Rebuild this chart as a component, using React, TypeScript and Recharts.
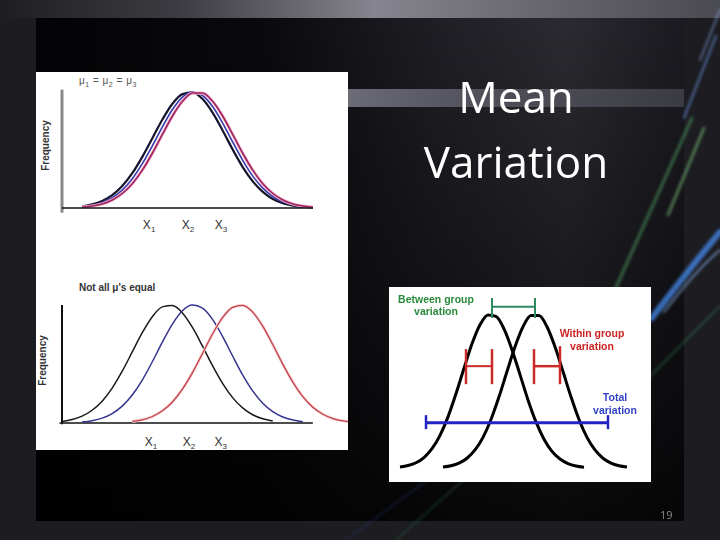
import { Line, LineChart, ReferenceLine, XAxis, YAxis } from "recharts";

// top panel: mu1 = mu2 = mu3 (x in 0..100 along the axis)
const topX = [8, 12, 16, 20, 24, 28, 32, 36, 40, 44, 48, 52, 56, 60, 64, 68, 72, 76, 80, 84, 88, 92, 96, 100];
const topBlack = [1.4, 3.1, 6.1, 11.1, 19.0, 30.0, 44.1, 60.2, 76.3, 89.9, 98.2, 99.7, 93.9, 82.2, 66.8, 50.4, 35.3, 23.0, 13.9, 7.8, 4.1, 2.0, 0.9, 0.4];
const topBlue = [1.0, 2.3, 4.7, 8.8, 15.4, 25.2, 38.2, 53.6, 70.0, 84.9, 95.6, 100, 97.0, 87.5, 73.2, 56.9, 41.1, 27.5, 17.1, 9.9, 5.3, 2.7, 1.2, 0.5];
const topRed = [0.7, 1.7, 3.5, 6.9, 12.5, 20.9, 32.6, 47.2, 63.5, 79.3, 92.0, 99.1, 99.1, 92.0, 79.3, 63.5, 47.2, 32.6, 20.9, 12.5, 6.9, 3.5, 1.7, 0.7];

// bottom panel: not all mu's equal
const bottomBlackX = [0, 4, 8, 12, 16, 20, 24, 28, 32, 36, 40, 44, 48, 52, 56, 60, 64, 68, 72, 76, 80, 84];
const bottomBlack = [1.3, 2.9, 5.8, 10.8, 18.5, 29.6, 43.9, 60.2, 76.5, 90.1, 98.4, 99.5, 93.3, 81.0, 65.2, 48.6, 33.6, 21.5, 12.8, 7.0, 3.6, 1.7];
const bottomBlueX = [8, 12, 16, 20, 24, 28, 32, 36, 40, 44, 48, 52, 56, 60, 64, 68, 72, 76, 80, 84, 88, 92, 96];
const bottomBlue = [0.9, 2.0, 4.1, 8.0, 14.3, 23.7, 36.4, 51.9, 68.5, 83.8, 95.1, 99.9, 97.3, 87.8, 73.4, 56.8, 40.8, 27.2, 16.7, 9.6, 5.1, 2.5, 1.1];
const bottomRedX = [28, 32, 36, 40, 44, 48, 52, 56, 60, 64, 68, 72, 76, 80, 84, 88, 92, 96, 100, 104, 108, 112, 114];
const bottomRed = [1.3, 2.7, 5.5, 10.3, 17.8, 28.7, 42.7, 58.9, 75.4, 89.3, 98.0, 99.7, 94.0, 82.1, 66.5, 49.9, 34.7, 22.3, 13.3, 7.4, 3.8, 1.8, 1.2];

const topTicks = [34.7, 50.2, 63.3];
const bottomTicks = [35.5, 50.6, 63.3];
const tickSubs = ["1", "2", "3"];

// right panel: between / within / total variation
const groupAX = [11, 19, 27, 35, 43, 51, 59, 67, 75, 83, 91, 99, 107, 115, 123, 131, 139, 147, 155, 163, 171, 179, 187, 195];
const groupA = [0.7, 1.7, 3.5, 6.9, 12.6, 21.3, 33.3, 48.3, 64.8, 80.7, 93.1, 99.5, 98.5, 90.4, 76.9, 60.7, 44.3, 30.0, 18.8, 10.9, 5.9, 3.0, 1.4, 0.6];
const groupBX = [54, 62, 70, 78, 86, 94, 102, 110, 118, 126, 134, 142, 150, 158, 166, 174, 182, 190, 198, 206, 214, 222, 230, 238];
const groupB = [0.7, 1.5, 3.2, 6.4, 11.8, 20.0, 31.6, 46.3, 62.7, 78.8, 91.8, 99.1, 99.1, 91.8, 78.8, 62.7, 46.3, 31.6, 20.0, 11.8, 6.4, 3.2, 1.5, 0.7];

const toPoints = (xs: number[], ys: number[]) => xs.map((x, i) => ({ x, y: ys[i] }));

function SubTick(props: any) {
  const { x, y, payload, ticks, offset } = props;
  const i = ticks.indexOf(payload.value);
  return (
    <text x={x} y={y + offset} textAnchor="middle" fill="#333" fontSize={12} fontFamily="Liberation Sans, Arial">
      <tspan>X</tspan>
      <tspan fontSize={8} dy={3}>{tickSubs[i]}</tspan>
    </text>
  );
}

const abs = (left: number, top: number, extra: any = {}) => ({ position: "absolute" as const, left, top, ...extra });

function Background() {
  return (
    <svg width={720} height={540} style={abs(0, 0)}>
      <defs>
        <linearGradient id="topStrip" x1="0" x2="1" y1="0" y2="0">
          <stop offset="0" stopColor="#1e1e22" />
          <stop offset="0.25" stopColor="#3c3c42" />
          <stop offset="0.52" stopColor="#86848e" />
          <stop offset="0.72" stopColor="#6c6a72" />
          <stop offset="1" stopColor="#4a4a52" />
        </linearGradient>
        <linearGradient id="inner" x1="0" x2="1" y1="0" y2="0">
          <stop offset="0" stopColor="#030305" />
          <stop offset="0.35" stopColor="#0a0a0e" />
          <stop offset="0.62" stopColor="#1e1e24" />
          <stop offset="0.82" stopColor="#2a2a30" />
          <stop offset="1" stopColor="#1a1a20" />
        </linearGradient>
        <linearGradient id="fade" x1="0" x2="0" y1="0" y2="1">
          <stop offset="0" stopColor="#000" stopOpacity="0" />
          <stop offset="0.5" stopColor="#000" stopOpacity="0.35" />
          <stop offset="1" stopColor="#000" stopOpacity="0.8" />
        </linearGradient>
        <linearGradient id="band" x1="0" x2="1" y1="0" y2="0">
          <stop offset="0" stopColor="#8a8a98" stopOpacity="0.75" />
          <stop offset="0.5" stopColor="#6e6e7c" stopOpacity="0.55" />
          <stop offset="1" stopColor="#5e5e6a" stopOpacity="0.5" />
        </linearGradient>
        <filter id="soft">
          <feGaussianBlur stdDeviation="1.6" />
        </filter>
      </defs>
      <rect width={720} height={540} fill="#1c1c21" />
      <rect width={720} height={18} fill="url(#topStrip)" />
      <rect x={36} y={18} width={648} height={503} fill="url(#inner)" />
      <rect x={36} y={18} width={648} height={503} fill="url(#fade)" />
      <rect x={348} y={89} width={336} height={18} fill="url(#band)" />
      <g filter="url(#soft)" fill="none" strokeLinecap="round">
        <path d="M588 350 L692 118" stroke="#62c870" strokeWidth={3} opacity={0.45} />
        <path d="M668 215 L704 128" stroke="#8fe08a" strokeWidth={2.5} opacity={0.55} />
        <path d="M684 118 L716 36" stroke="#7aa8ff" strokeWidth={2} opacity={0.6} />
        <path d="M700 60 L720 10" stroke="#9ab8ff" strokeWidth={2} opacity={0.5} />
        <path d="M652 318 Q690 268 720 232" stroke="#4a94ff" strokeWidth={6} opacity={0.7} />
        <path d="M664 312 Q696 270 720 250" stroke="#9cc8ff" strokeWidth={2} opacity={0.6} />
        <path d="M648 378 L720 306" stroke="#48a868" strokeWidth={1.5} opacity={0.45} />
        <path d="M396 540 L488 458" stroke="#3e8a58" strokeWidth={1.5} opacity={0.4} />
        <path d="M346 540 L430 478" stroke="#4050a8" strokeWidth={1.5} opacity={0.35} />
      </g>
    </svg>
  );
}

export default function App() {
  const gA = toPoints(groupAX, groupA);
  const gB = toPoints(groupBX, groupB);
  return (
    <div style={abs(0, 0, { width: 720, height: 540, overflow: "hidden", fontFamily: "Liberation Sans, Arial, sans-serif" })}>
      <Background />

      {/* left white panel */}
      <div style={abs(36, 72, { width: 312, height: 378, background: "#fff" })} />

      <div style={abs(36, 72)}>
        <LineChart width={312} height={170} margin={{ top: 20, right: 35, left: 26, bottom: 0 }}>
          <XAxis
            dataKey="x"
            type="number"
            domain={[0, 100]}
            ticks={topTicks}
            interval={0}
            tickLine={false}
            axisLine={{ stroke: "#111", strokeWidth: 1.5 }}
            height={34}
            allowDataOverflow
            tick={<SubTick ticks={topTicks} offset={13} />}
          />
          <YAxis hide type="number" domain={[0, 100]} />
          <ReferenceLine segment={[{ x: 0, y: -4 }, { x: 0, y: 102 }]} stroke="#888" strokeWidth={3} ifOverflow="visible" />
          <Line data={toPoints(topX, topBlack)} dataKey="y" type="monotone" stroke="#15152e" strokeWidth={2.2} dot={false} isAnimationActive={false} />
          <Line data={toPoints(topX, topBlue)} dataKey="y" type="monotone" stroke="#3838a8" strokeWidth={1.6} dot={false} isAnimationActive={false} />
          <Line data={toPoints(topX, topRed)} dataKey="y" type="monotone" stroke="#f2b8cc" strokeWidth={3.2} dot={false} isAnimationActive={false} />
          <Line data={toPoints(topX, topRed)} dataKey="y" type="monotone" stroke="#a02060" strokeWidth={1.6} dot={false} isAnimationActive={false} />
        </LineChart>
      </div>

      <div style={abs(36, 270)}>
        <LineChart width={312} height={180} margin={{ top: 35, right: 0, left: 26, bottom: 0 }}>
          <XAxis
            dataKey="x"
            type="number"
            domain={[0, 114]}
            ticks={bottomTicks}
            interval={0}
            tickLine={false}
            axisLine={false}
            height={27}
            allowDataOverflow
            tick={<SubTick ticks={bottomTicks} offset={15} />}
          />
          <YAxis hide type="number" domain={[0, 100]} />
          <ReferenceLine segment={[{ x: -1, y: 0 }, { x: 100, y: 0 }]} stroke="#111" strokeWidth={1.5} ifOverflow="visible" />
          <ReferenceLine segment={[{ x: 0, y: -1 }, { x: 0, y: 100 }]} stroke="#111" strokeWidth={2} ifOverflow="visible" />
          <Line data={toPoints(bottomBlackX, bottomBlack)} dataKey="y" type="monotone" stroke="#1a1a1a" strokeWidth={1.5} dot={false} isAnimationActive={false} />
          <Line data={toPoints(bottomBlueX, bottomBlue)} dataKey="y" type="monotone" stroke="#34348e" strokeWidth={1.5} dot={false} isAnimationActive={false} />
          <Line data={toPoints(bottomRedX, bottomRed)} dataKey="y" type="monotone" stroke="#f8d4d4" strokeWidth={3} dot={false} isAnimationActive={false} />
          <Line data={toPoints(bottomRedX, bottomRed)} dataKey="y" type="monotone" stroke="#c0404c" strokeWidth={1.3} dot={false} isAnimationActive={false} />
        </LineChart>
      </div>

      <div style={abs(79, 75, { fontSize: 10, color: "#555", letterSpacing: 0.5 })}>
        μ<sub style={{ fontSize: 7 }}>1</sub> = μ<sub style={{ fontSize: 7 }}>2</sub> = μ<sub style={{ fontSize: 7 }}>3</sub>
      </div>
      <div style={abs(79, 282, { fontSize: 10, fontWeight: "bold", color: "#333" })}>Not all μ's equal</div>
      <div style={abs(18, 140, { width: 55, fontSize: 10, fontWeight: "bold", color: "#333", transform: "rotate(-90deg)", textAlign: "center" })}>Frequency</div>
      <div style={abs(15, 355, { width: 55, fontSize: 10, fontWeight: "bold", color: "#333", transform: "rotate(-90deg)", textAlign: "center" })}>Frequency</div>

      {/* right white panel */}
      <div style={abs(389, 287, { width: 262, height: 195, background: "#fff" })} />
      <div style={abs(389, 287)}>
        <LineChart width={262} height={195} margin={{ top: 0, right: 0, left: 0, bottom: 0 }}>
          <XAxis hide dataKey="x" type="number" domain={[0, 262]} />
          <YAxis hide type="number" domain={[-9, 117.6]} />
          <Line data={gA} dataKey="y" type="monotone" stroke="#000" strokeWidth={3} dot={false} isAnimationActive={false} />
          <Line data={gB} dataKey="y" type="monotone" stroke="#000" strokeWidth={3} dot={false} isAnimationActive={false} />
          <ReferenceLine segment={[{ x: 103, y: 104.7 }, { x: 146, y: 104.7 }]} stroke="#2f8a62" strokeWidth={2} />
          <ReferenceLine segment={[{ x: 103, y: 110.4 }, { x: 103, y: 97.4 }]} stroke="#2f8a62" strokeWidth={2} />
          <ReferenceLine segment={[{ x: 146, y: 110.4 }, { x: 146, y: 97.4 }]} stroke="#2f8a62" strokeWidth={2} />
          <ReferenceLine segment={[{ x: 77, y: 66.2 }, { x: 103, y: 66.2 }]} stroke="#cc2a2a" strokeWidth={2} />
          <ReferenceLine segment={[{ x: 77, y: 77.3 }, { x: 77, y: 54.5 }]} stroke="#cc2a2a" strokeWidth={2.5} />
          <ReferenceLine segment={[{ x: 103, y: 77.3 }, { x: 103, y: 54.5 }]} stroke="#cc2a2a" strokeWidth={2.5} />
          <ReferenceLine segment={[{ x: 145, y: 66.2 }, { x: 171, y: 66.2 }]} stroke="#cc2a2a" strokeWidth={2.5} />
          <ReferenceLine segment={[{ x: 145, y: 77.3 }, { x: 145, y: 54.5 }]} stroke="#cc2a2a" strokeWidth={2.5} />
          <ReferenceLine segment={[{ x: 171, y: 79.2 }, { x: 171, y: 54.5 }]} stroke="#cc2a2a" strokeWidth={2.5} />
          <ReferenceLine segment={[{ x: 37, y: 29.4 }, { x: 219, y: 29.4 }]} stroke="#2323c4" strokeWidth={3} />
          <ReferenceLine segment={[{ x: 37, y: 34.4 }, { x: 37, y: 25.3 }]} stroke="#2323c4" strokeWidth={2.5} />
          <ReferenceLine segment={[{ x: 219, y: 34.4 }, { x: 219, y: 25.3 }]} stroke="#2323c4" strokeWidth={2.5} />
        </LineChart>
      </div>
      <div style={abs(386, 293, { width: 100, textAlign: "center", fontSize: 10.5, lineHeight: "12px", fontWeight: "bold", color: "#2a8a3c" })}>
        Between group
        <br />
        variation
      </div>
      <div style={abs(542, 327, { width: 100, textAlign: "center", fontSize: 10.5, lineHeight: "13px", fontWeight: "bold", color: "#cc2222" })}>
        Within group
        <br />
        variation
      </div>
      <div style={abs(565, 391, { width: 100, textAlign: "center", fontSize: 10.5, lineHeight: "13px", fontWeight: "bold", color: "#3242c4" })}>
        Total
        <br />
        variation
      </div>

      <div style={abs(396, 64, { width: 240, textAlign: "center", fontFamily: "Open Sans", fontSize: 44, lineHeight: "65px", color: "#fff" })}>
        Mean
        <br />
        Variation
      </div>
      <div style={abs(660, 507, { fontFamily: "Open Sans", fontSize: 11, color: "#8a8a8a" })}>19</div>
    </div>
  );
}
